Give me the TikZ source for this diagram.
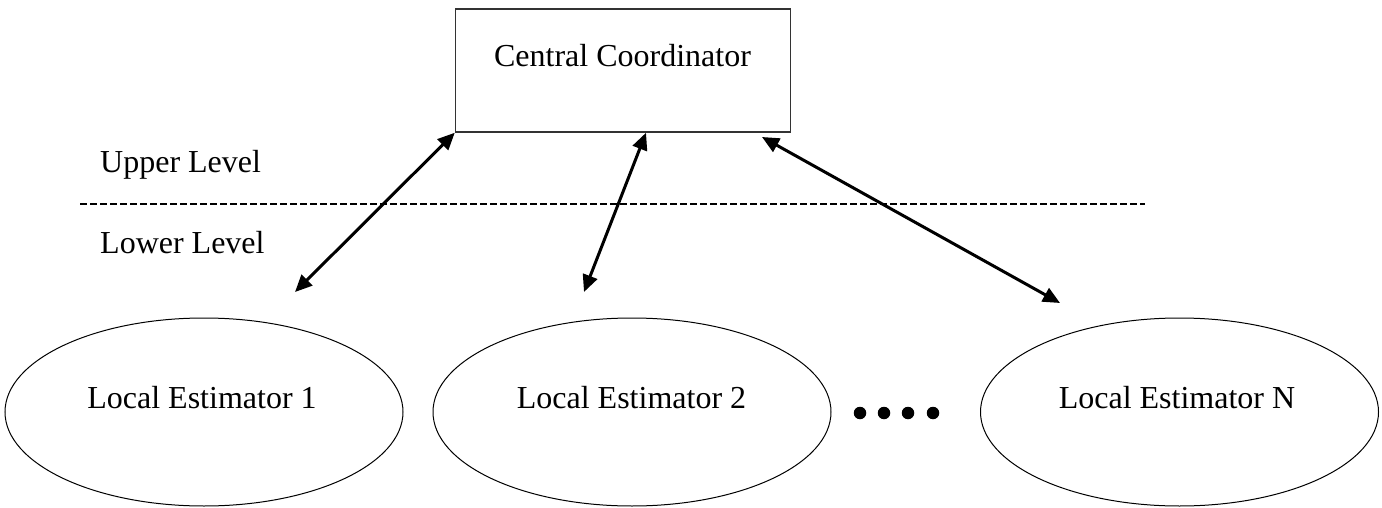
\documentclass[tikz,border=0pt]{standalone}
\usepackage{fontspec}
\setmainfont{Liberation Serif}
\usetikzlibrary{arrows.meta,shapes.geometric}

\tikzset{
  lbl/.style={font=\fontsize{32}{38}\selectfont, inner sep=0pt},
  coordbox/.style={draw=black!80, line width=1.5pt, minimum width=335pt, minimum height=123pt, inner sep=0pt},
  estimator/.style={ellipse, draw=black, line width=1pt, minimum width=398pt, minimum height=188pt, inner sep=0pt},
  link/.style={line width=3pt, {Triangle[length=17pt,width=15pt]}-{Triangle[length=17pt,width=15pt]}},
  levelline/.style={line width=2pt, dash pattern=on 7pt off 3pt},
  dot/.style={circle, fill=black, inner sep=0pt, minimum size=12.5pt}
}

\begin{document}
\begin{tikzpicture}[x=1pt, y=-1pt]
  \useasboundingbox (0,0) rectangle (1382,508);

  % upper level: the coordinator
  \node[coordbox] (cc) at (623,70.5) {};
  \node[lbl, anchor=base] (cctext) at (622.5,67) {Central Coordinator};

  % level separator and its labels
  \coordinate (sepL) at (80,204);
  \coordinate (sepR) at (1145,204);
  \draw[levelline] (sepL) -- (sepR);
  \node[lbl, anchor=base west] (upper) at (100,172) {Upper Level};
  \node[lbl, anchor=base west] (lower) at (100,253) {Lower Level};

  % lower level: local estimators
  \node[estimator] (e1) at (204,412) {};
  \node[estimator] (e2) at (632,412) {};
  \node[estimator] (eN) at (1179.5,412) {};
  \node[lbl, anchor=base] (t1) at (202,408) {Local Estimator 1};
  \node[lbl, anchor=base] (t2) at (631.5,408) {Local Estimator 2};
  \node[lbl, anchor=base] (tN) at (1177,408) {Local Estimator N};

  % ellipsis between estimators
  \node[dot] (d1) at (860,413) {};
  \node[dot] (d2) at (884,413) {};
  \node[dot] (d3) at (908,413) {};
  \node[dot] (d4) at (933,413) {};

  % communication links
  \coordinate (c1) at (cc.south west);
  \coordinate (c2) at ([xshift=23pt]cc.south);
  \coordinate (c3) at (762,137);
  \coordinate (a1) at (295,292);
  \coordinate (a2) at (584,292);
  \coordinate (aN) at (1060,303);
  \draw[link] (a1) -- (c1);
  \draw[link] (a2) -- (c2);
  \draw[link] (aN) -- (c3);
\end{tikzpicture}
\end{document}
